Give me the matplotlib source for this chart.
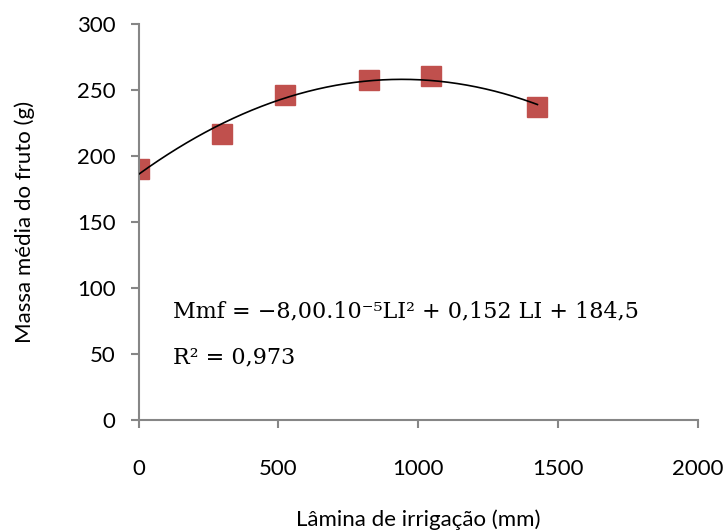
import numpy as np
import matplotlib
matplotlib.use("Agg")
import matplotlib.pyplot as plt

# Data
lamina = [0, 298, 522, 823, 1046, 1426]          # Lâmina de irrigação (mm)
massa = [190, 216.5, 246, 257.4, 260.9, 237]      # Massa média do fruto (g)
x_ticks = [0, 500, 1000, 1500, 2000]
y_ticks = [0, 50, 100, 150, 200, 250, 300]
eq_text = "Mmf = −8,00.10⁻⁵LI² + 0,152 LI + 184,5"
r2_text = "R² = 0,973"

plt.rcParams['font.family'] = ['Lato', 'DejaVu Sans']

fig = plt.figure(figsize=(7.26, 5.31), dpi=100)
ax = fig.add_axes([138.5/726, 1-420.4/531, (698-138.5)/726, (420.4-24)/531])

axis_gray = '#868686'

# Trendline: 2nd-order polynomial fit of the data
coef = np.polyfit(lamina, massa, 2)
xs = np.linspace(min(lamina), max(lamina), 300)
ax.plot(xs, np.polyval(coef, xs), color='black', lw=1.2, zorder=3)

ax.plot(lamina, massa, linestyle='none', marker='s', markersize=14,
        color='#C0504D', markeredgecolor='#C0504D', zorder=2)

ax.set_xlim(0, 2000)
ax.set_ylim(0, 300)
ax.set_xticks(x_ticks)
ax.set_yticks(y_ticks)

for s in ['top', 'right']:
    ax.spines[s].set_visible(False)
for s in ['left', 'bottom']:
    ax.spines[s].set_color(axis_gray)
    ax.spines[s].set_linewidth(1.5)
ax.tick_params(axis='both', colors=axis_gray, width=1.5, length=5.5,
               labelcolor='black', labelsize=16)
ax.tick_params(axis='y', pad=11)
ax.tick_params(axis='x', pad=22)

ax.set_xlabel("Lâmina de irrigação (mm)", fontsize=16, labelpad=22)
ax.set_ylabel("Massa média do fruto (g)", fontsize=16, labelpad=30)

serif = ['DejaVu Serif', 'Liberation Serif']
ax.text((173-138.5)/0.2808, (420.4-311)/1.3213, eq_text, fontsize=16,
        family=serif, va='center', ha='left')
ax.text((173-138.5)/0.2808, (420.4-357)/1.3213, r2_text, fontsize=16,
        family=serif, va='center', ha='left')

fig.savefig("out.png", dpi=100)
